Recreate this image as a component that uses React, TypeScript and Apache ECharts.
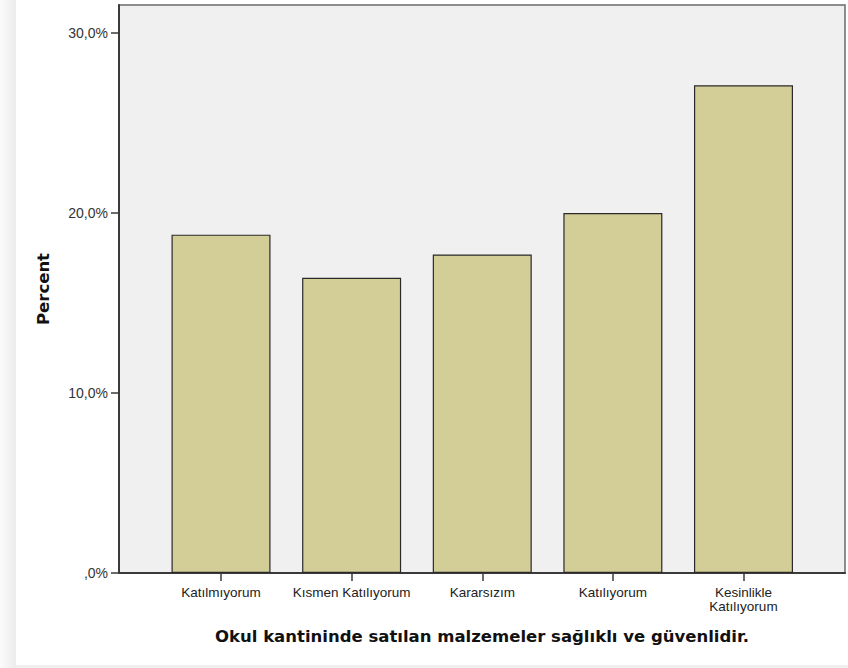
import React, { useEffect, useRef } from "react";
import * as echarts from "echarts";

const categories = [
  "Katılmıyorum",
  "Kısmen Katılıyorum",
  "Kararsızım",
  "Katılıyorum",
  "Kesinlikle\nKatılıyorum",
];
const percentValues = [18.8, 16.4, 17.7, 20.0, 27.1];
const yTicks = [0, 10, 20, 30];
const xTitle = "Okul kantininde satılan malzemeler sağlıklı ve güvenlidir.";
const yTitle = "Percent";

const fmt = (v: number) =>
  v === 0 ? ",0%" : v.toFixed(1).replace(".", ",") + "%";

export default function App() {
  const ref = useRef<HTMLDivElement>(null);
  useEffect(() => {
    document.body.style.margin = "0";
    const chart = echarts.init(ref.current!, null, { renderer: "svg" });
    const yMax = 31.56;
    chart.setOption({
      animation: false,
      backgroundColor: "#ffffff",
      graphic: [
        {
          type: "rect",
          shape: { x: 0, y: 0, width: 16, height: 668 },
          style: {
            fill: new echarts.graphic.LinearGradient(0, 0, 1, 0, [
              { offset: 0, color: "#fbfbfb" },
              { offset: 1, color: "#ececec" },
            ]),
          },
          silent: true,
        },
        {
          type: "rect",
          shape: { x: 16, y: 665, width: 832, height: 3 },
          style: { fill: "#f0f0f0" },
          silent: true,
        },
      ],
      grid: [
        {
          left: 119,
          right: 3,
          top: 5,
          bottom: 95,
          show: true,
          backgroundColor: "#f0f0f0",
          borderColor: "#6a6a6a",
          borderWidth: 1.5,
        },
        { left: 155.7, right: 39.2, top: 5, bottom: 95 },
      ],
      xAxis: [
        {
          gridIndex: 0,
          type: "value",
          min: 0,
          max: 1,
          axisLine: { show: true, lineStyle: { color: "#3a3a3a", width: 2 } },
          axisTick: { show: false },
          axisLabel: { show: false },
          splitLine: { show: false },
          name: xTitle,
          nameLocation: "middle",
          nameGap: 55,
          nameTextStyle: {
            fontFamily: "DejaVu Sans",
            fontWeight: "bold",
            fontSize: 16.5,
            color: "#111",
          },
        },
        {
          gridIndex: 1,
          type: "category",
          data: categories,
          boundaryGap: true,
          axisLine: { show: false },
          axisTick: {
            show: true,
            alignWithLabel: true,
            length: 8,
            lineStyle: { color: "#3a3a3a", width: 1.5 },
          },
          axisLabel: {
            interval: 0,
            margin: 12,
            fontFamily: "Liberation Sans, Arial",
            fontSize: 13.5,
            lineHeight: 14,
            color: "#222",
          },
        },
      ],
      yAxis: [
        {
          gridIndex: 0,
          type: "value",
          min: 0,
          max: yMax,
          axisLine: { show: true, lineStyle: { color: "#3a3a3a", width: 2 } },
          axisTick: {
            show: true,
            length: 8,
            customValues: yTicks,
            lineStyle: { color: "#3a3a3a", width: 1.5 },
          },
          axisLabel: {
            customValues: yTicks,
            formatter: (v: number) => fmt(v),
            margin: 11,
            fontFamily: "Liberation Sans, Arial",
            fontSize: 14,
            color: "#333",
          },
          splitLine: { show: false },
          name: yTitle,
          nameLocation: "middle",
          nameGap: 67,
          nameRotate: 90,
          nameTextStyle: {
            fontFamily: "DejaVu Sans",
            fontWeight: "bold",
            fontSize: 16.5,
            color: "#111",
          },
        },
        {
          gridIndex: 1,
          type: "value",
          min: 0,
          max: yMax,
          show: false,
        },
      ],
      series: [
        {
          type: "bar",
          xAxisIndex: 1,
          yAxisIndex: 1,
          data: percentValues,
          barWidth: 99,
          itemStyle: {
            color: "#d3ce98",
            borderColor: "#2a2a2a",
            borderWidth: 1.2,
          },
        },
      ],
    });
    return () => chart.dispose();
  }, []);
  return (
    <div
      ref={ref}
      style={{ position: "fixed", left: 0, top: 0, width: 848, height: 668 }}
    />
  );
}
